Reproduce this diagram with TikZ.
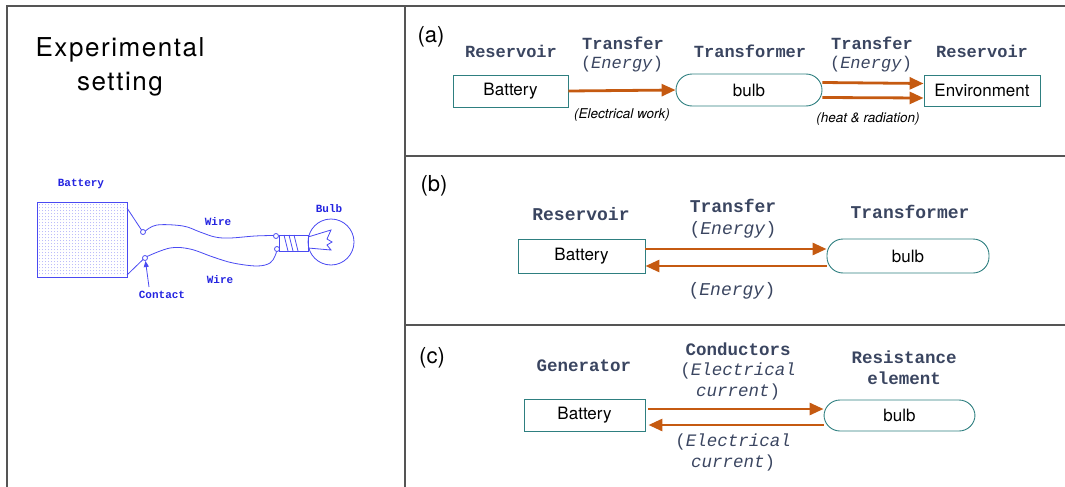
\documentclass[tikz,border=0pt]{standalone}
\usepackage{fontspec}
\setmainfont{TeX Gyre Heros}
\setmonofont{Liberation Mono}
\newfontfamily\titlefont[LetterSpace=6]{TeX Gyre Heros}
\usetikzlibrary{arrows.meta}
\usepackage{xcolor}
\definecolor{hdcol}{HTML}{3A4560}
\definecolor{boxcol}{HTML}{2E7F80}
\definecolor{arrcol}{HTML}{C55A11}
\definecolor{skblue}{HTML}{4A4AF2}
\definecolor{sktext}{HTML}{2424E0}
\definecolor{framecol}{HTML}{555555}

\begin{document}
\begin{tikzpicture}[
x=1pt, y=-1pt,
>={Triangle[length=14pt,width=12pt]},
frame/.style={draw=framecol, line width=1.3pt},
box/.style={draw=boxcol, line width=0.9pt, inner sep=0pt, font=\fontsize{17}{20}\selectfont},
pill/.style={box, rounded corners=16pt},
hd/.style={text=hdcol, font=\fontsize{#1}{20}\selectfont\ttfamily\bfseries},
hd/.default=17,
en/.style={text=hdcol, font=\fontsize{#1}{20}\selectfont\ttfamily},
en/.default=17,
note/.style={font=\fontsize{13.5}{16}\selectfont\itshape},
panel/.style={font=\fontsize{22}{26}\selectfont},
flow/.style={->, draw=arrcol, line width=2.8pt},
sk/.style={draw=skblue, line width=0.8pt},
sklab/.style={text=sktext, font=\fontsize{11}{13}\selectfont\ttfamily\bfseries},
]
\useasboundingbox (0,0) rectangle (1065,487);

%% frame
\draw[frame] (7,487) -- (7,6) -- (1065,6);
\draw[frame] (405,6) -- (405,487);
\draw[frame] (405,156) -- (1065,156);
\draw[frame] (405,325) -- (1065,325);

%% experimental setting
\node[font=\fontsize{26}{30}\selectfont\titlefont] (title1) at (120,50) {Experimental};
\node[font=\fontsize{26}{30}\selectfont\titlefont] (title2) at (120,84) {setting};

% battery
\foreach \i in {0,...,28}
  \foreach \j in {0,...,23}
    \fill[skblue!45] (39.5+3*\i,204.5+3*\j) circle (0.5);
\draw[sk] (37,202) rectangle (127,277);
\node[sklab] (lbat) at (81,184) {Battery};
% contacts
\draw[sk] (143,232) circle (2.5);
\draw[sk] (145,258) circle (2.5);
\draw[sk] (276,236) circle (2.5);
\draw[sk] (277,249) circle (2.5);
% wires
\draw[sk] (127,208) -- (141.5,230);
\draw[sk] (127,275) -- (143,259.5);
\draw[sk] plot[smooth, tension=0.6] coordinates {(145.5,231) (157,225) (183,226) (200,232) (215,237) (230,238) (255,236) (273.5,235.5)};
\draw[sk] plot[smooth, tension=0.6] coordinates {(147,256.5) (170,248) (190,249) (213,257) (233,263) (257,266) (270,263) (275,256) (276.5,251.5)};
\node[sklab] (lw1) at (218,222) {Wire};
\node[sklab] (lw2) at (220,280) {Wire};
% socket and bulb
\draw[sk] (279,235) rectangle (308,251);
\foreach \x in {284,289,294}
  \draw[sk] (\x,235) -- (\x+4,251);
\draw[sk] (331,242) circle (23);
\draw[sk] (308,237) -- (331,230) -- (327,239) -- (332,242) -- (327,245) -- (331,250) -- (308,248);
\node[sklab] (lbulb) at (329,209) {Bulb};
% contact label
\node[sklab] (lcon) at (162,295) {Contact};
\draw[sk, -{Triangle[length=6pt,width=5pt]}] (149,287) -- (145.5,261);

%% panel (a)
\node[panel] (pa) at (431,37) {(a)};
\node[hd] (ha1) at (511,51) {Reservoir};
\node[hd] (ha2) at (623,43.5) {Transfer};
\node[en] (ea2) at (622,64) {(\textit{Energy})};
\node[hd] (ha3) at (750,51) {Transformer};
\node[hd] (ha4) at (872,43.5) {Transfer};
\node[en] (ea4) at (871,64) {(\textit{Energy})};
\node[hd] (ha5) at (982,51) {Reservoir};
% nodes
\node[box, minimum width=115pt, minimum height=32pt] (batA) at (510.5,91) {Battery};
\node[pill, minimum width=146pt, minimum height=32pt] (bulbA) at (749,90) {bulb};
\node[box, minimum width=116pt, minimum height=31pt] (envA) at (982,90.5) {Environment};
% arrows
\draw[flow] (batA.east) -- (bulbA.west);
\draw[flow] ([yshift=7.5pt]bulbA.east) -- ([yshift=7pt]envA.west);
\draw[flow] ([yshift=-7.5pt]bulbA.east) -- ([yshift=-7.5pt]envA.west);
\node[note] (na1) at (622,115) {(Electrical work)};
\node[note] (na2) at (868,119) {(heat \& radiation)};

%% panel (b)
\node[panel] (pb) at (434,186) {(b)};
\node[hd=18] (hb1) at (581,214) {Reservoir};
\node[hd=18] (hb2) at (733,206) {Transfer};
\node[en=18] (eb2) at (733,230) {(\textit{Energy})};
\node[hd=18] (hb3) at (910,212) {Transformer};
% nodes
\node[box, minimum width=127pt, minimum height=34pt] (batB) at (581.5,256) {Battery};
\node[pill, minimum width=162pt, minimum height=34pt] (bulbB) at (908,256) {bulb};
% arrows
\draw[flow] ([yshift=7pt]batB.east) -- ([yshift=7pt]bulbB.west);
\draw[flow] ([yshift=-10pt]bulbB.west) -- ([yshift=-10pt]batB.east);
\node[en=18] (eb3) at (732,291) {(\textit{Energy})};

%% panel (c)
\node[panel] (pc) at (432,358) {(c)};
\node[hd=17.5] (hc1) at (584,366) {Generator};
\node[hd=17.5] (hc2) at (738,349) {Conductors};
\node[en=17.5] (ec2) at (738,371) {(\textit{Electrical}};
\node[en=17.5] (ec3) at (738,392) {\textit{current})};
\node[hd=17.5] (hc3) at (904,357) {Resistance};
\node[hd=17.5] (hc4) at (904,378) {element};
% nodes
\node[box, minimum width=121pt, minimum height=32pt] (batC) at (584.5,415.5) {Battery};
\node[pill, minimum width=151pt, minimum height=31pt] (bulbC) at (899.5,415.5) {bulb};
% arrows
\draw[flow] ([yshift=6.5pt,xshift=3pt]batC.east) -- ([yshift=6.5pt]bulbC.west);
\draw[flow] ([yshift=-9.5pt]bulbC.west) -- ([yshift=-9.5pt,xshift=3pt]batC.east);
\node[en=17.5] (ec4) at (733,442) {(\textit{Electrical}};
\node[en=17.5] (ec5) at (733,463) {\textit{current})};
\end{tikzpicture}
\end{document}
